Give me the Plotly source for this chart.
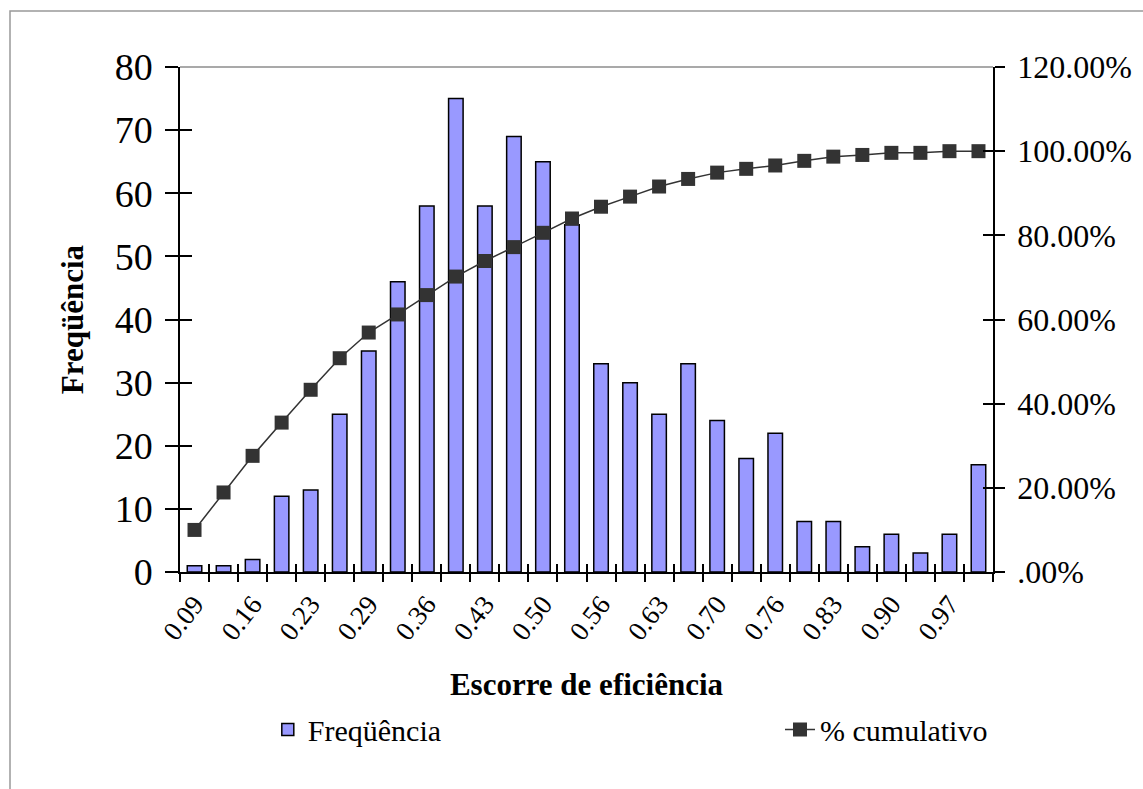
import plotly.graph_objects as go

# ---- data ----
categories = ["0.09", "0.12", "0.16", "0.19", "0.23", "0.26", "0.29", "0.33", "0.36", "0.39",
              "0.43", "0.46", "0.50", "0.53", "0.56", "0.60", "0.63", "0.66", "0.70", "0.73",
              "0.76", "0.80", "0.83", "0.86", "0.90", "0.93", "0.97", "1.00"]
frequencia = [1, 1, 2, 12, 13, 25, 35, 46, 58, 75, 58, 69, 65, 55, 33, 30, 25, 33, 24, 18,
              22, 8, 8, 4, 6, 3, 6, 17]
cumulativo = [10.0, 18.9, 27.6, 35.5, 43.3, 50.8, 56.9, 61.2, 65.8, 70.2, 73.9, 77.2, 80.6, 84.0,
              86.8, 89.2, 91.6, 93.4, 94.9, 95.8, 96.6, 97.7, 98.7, 99.1, 99.6, 99.6, 100.0, 100.0]
left_ticks = [0, 10, 20, 30, 40, 50, 60, 70, 80]
right_ticks = [0, 20, 40, 60, 80, 100, 120]
right_ticktext = [".00%", "20.00%", "40.00%", "60.00%", "80.00%", "100.00%", "120.00%"]

FONT = "Liberation Serif, Times New Roman, serif"
pos = list(range(len(categories)))
shown = pos[::2]
bounds = [p - 0.5 for p in pos] + [pos[-1] + 0.5]
xrange = [bounds[0], bounds[-1]]

fig = go.Figure()
fig.add_trace(go.Bar(
    x=pos, y=frequencia, name="Freqüência", width=0.5, legend="legend",
    marker=dict(color="#9999FF", line=dict(color="black", width=1.5)),
))
fig.add_trace(go.Scatter(
    x=pos, y=cumulativo, name="% cumulativo", yaxis="y2", mode="lines+markers", legend="legend2",
    line=dict(color="#333333", width=1.5),
    marker=dict(symbol="square", size=14, color="#333333"),
))
# helper traces so the inner-tick overlay axes are drawn
fig.add_trace(go.Scatter(x=[None], y=[None], xaxis="x2", yaxis="y3", showlegend=False, hoverinfo="skip"))
fig.add_trace(go.Scatter(x=[None], y=[None], xaxis="x", yaxis="y4", showlegend=False, hoverinfo="skip"))

fig.update_layout(
    width=1143, height=789,
    margin=dict(l=180, r=150, t=67, b=217),
    paper_bgcolor="white", plot_bgcolor="white",
    font=dict(family=FONT, color="black"),
    bargap=0.5,
    xaxis=dict(
        range=xrange, tickmode="array", tickvals=shown,
        ticktext=[categories[i] for i in shown],
        tickangle=-52, ticks="", showgrid=False, zeroline=False,
        showline=True, linecolor="black", linewidth=1.5,
        tickfont=dict(size=27, family=FONT),
        ticklabelstandoff=4,
        minor=dict(tickmode="array", tickvals=bounds, ticks="outside", ticklen=8,
                   tickcolor="black", tickwidth=1.5),
        title=dict(text="<b>Escorre de eficiência</b>", font=dict(size=31, family=FONT), standoff=28),
    ),
    xaxis2=dict(
        range=xrange, overlaying="x", anchor="y", tickmode="array", tickvals=bounds,
        ticks="inside", ticklen=8, tickcolor="black", tickwidth=1.5,
        showticklabels=False, showgrid=False, zeroline=False, showline=False,
    ),
    yaxis=dict(
        range=[0, 80], tickmode="array", tickvals=left_ticks,
        ticks="outside", ticklen=13, tickcolor="black", tickwidth=1.5,
        showgrid=False, zeroline=False, showline=True, linecolor="black", linewidth=1.5,
        tickfont=dict(size=38, family=FONT), ticklabelstandoff=5,
        title=dict(text="<b>Freqüência</b>", font=dict(size=31, family=FONT), standoff=22),
    ),
    yaxis2=dict(
        range=[0, 120], overlaying="y", side="right", anchor="x",
        tickmode="array", tickvals=right_ticks, ticktext=right_ticktext,
        ticks="outside", ticklen=10, tickcolor="black", tickwidth=1.5,
        showgrid=False, zeroline=False, showline=True, linecolor="black", linewidth=1.5,
        tickfont=dict(size=32, family=FONT), ticklabelstandoff=6,
    ),
    yaxis3=dict(
        range=[0, 80], overlaying="y", anchor="x", tickmode="array", tickvals=left_ticks,
        ticks="inside", ticklen=12, tickcolor="black", tickwidth=1.5,
        showticklabels=False, showgrid=False, zeroline=False, showline=False,
    ),
    yaxis4=dict(
        range=[0, 120], overlaying="y", side="right", anchor="x", tickmode="array",
        tickvals=right_ticks, ticks="inside", ticklen=10, tickcolor="black", tickwidth=1.5,
        showticklabels=False, showgrid=False, zeroline=False, showline=False,
    ),
    legend=dict(
        orientation="h", x=0.108, xanchor="left", y=-0.312, yanchor="middle",
        font=dict(size=30, family=FONT), bgcolor="rgba(0,0,0,0)",
    ),
    legend2=dict(
        orientation="h", x=0.738, xanchor="left", y=-0.312, yanchor="middle",
        font=dict(size=30, family=FONT), bgcolor="rgba(0,0,0,0)",
    ),
    shapes=[
        dict(type="line", xref="paper", yref="paper", x0=0, x1=1, y0=1, y1=1,
             line=dict(color="#8c8c8c", width=1.5)),
        dict(type="rect", xref="paper", yref="paper", x0=-0.2091, x1=1.25, y0=-0.5, y1=1.111,
             line=dict(color="#999999", width=1.5), fillcolor="rgba(0,0,0,0)"),
    ],
)

fig.write_html("out.html")
